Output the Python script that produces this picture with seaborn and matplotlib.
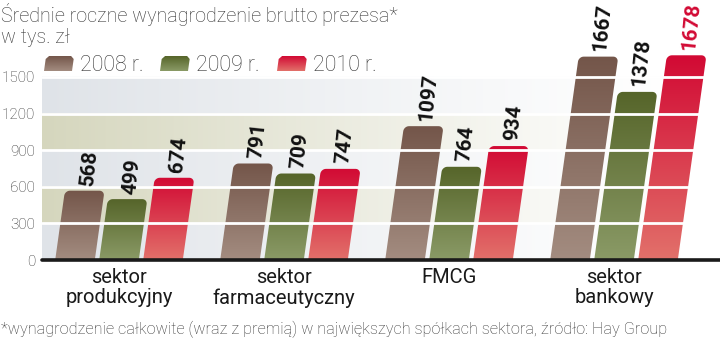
import numpy as np
import pandas as pd
import seaborn as sns
import matplotlib.pyplot as plt
from matplotlib.patches import Polygon
from matplotlib import font_manager as fm
import matplotlib.colors as mcolors

sectors = ["sektor\nprodukcyjny", "sektor\nfarmaceutyczny", "FMCG", "sektor\nbankowy"]
years = ["2008 r.", "2009 r.", "2010 r."]
v2008 = [568, 791, 1097, 1667]
v2009 = [499, 709, 764, 1378]
v2010 = [674, 747, 934, 1678]
yticks = [0, 300, 600, 900, 1200, 1500]
title = "Średnie roczne wynagrodzenie brutto prezesa*"
subtitle = "w tys. zł"
footnote = "*wynagrodzenie całkowite (wraz z premią) w największych spółkach sektora, źródło: Hay Group"

top_cols = ["#74564a", "#56652a", "#d20a34"]
bot_cols = ["#a38c80", "#8a9a66", "#e2706a"]

sns.set_theme(style="white")
avail = {f.name for f in fm.fontManager.ttflist}
narrow = "Liberation Sans Narrow" if "Liberation Sans Narrow" in avail else "Roboto"
plt.rcParams["font.family"] = [narrow, "DejaVu Sans"]

df = pd.DataFrame({
    "sector": sectors * 3,
    "year": [years[0]] * 4 + [years[1]] * 4 + [years[2]] * 4,
    "value": v2008 + v2009 + v2010,
})

W, H = 720, 342
fig = plt.figure(figsize=(W / 100, H / 100), dpi=100)
fig.patch.set_facecolor("white")

px_per_unit_y = (260 - 77) / 1500.0
ymax = 1700
ax_left, ax_right, ax_base = 42, 720, 260
ax_h = ymax * px_per_unit_y
ax = fig.add_axes([ax_left / W, 1 - ax_base / H, (ax_right - ax_left) / W, ax_h / H])
px_per_unit_x = 165.0
xlim = ((ax_left - 119) / px_per_unit_x, (ax_right - 119) / px_per_unit_x)

sns.barplot(data=df, x="sector", y="value", hue="year", hue_order=years,
            palette=top_cols, width=0.8, gap=0.1, legend=False, ax=ax,
            order=sectors, zorder=2)
ax.set_xlim(*xlim)
ax.set_ylim(0, ymax)

# background bands fading to white
band_cols = ["#dfe3e8", "#d5d6bd", "#dfe3e8", "#d5d6bd", "#dfe3e8"]  # top to bottom
nx = 400
alpha = np.clip(1 - np.linspace(0, 1, nx) * 1.05, 0, 1) ** 1.2
img = np.zeros((5, nx, 4))
for i, c in enumerate(band_cols):
    img[i, :, :3] = mcolors.to_rgb(c)
    img[i, :, 3] = alpha
img2 = np.repeat(img, 60, axis=0)
ax.imshow(img2, extent=[xlim[0], xlim[1], 0, 1500], aspect="auto",
          interpolation="nearest", zorder=0, origin="upper")

slope = 0.14
k = slope * px_per_unit_y / px_per_unit_x


def bar_polygon(x0, w, h, r_px=5):
    rx = r_px / px_per_unit_x
    ry = r_px / px_per_unit_y
    pts = [(x0, 0)]
    for tt in np.linspace(np.pi, np.pi / 2, 8):
        pts.append((x0 + rx + rx * np.cos(tt), h - ry + ry * np.sin(tt)))
    for tt in np.linspace(np.pi / 2, 0, 8):
        pts.append((x0 + w - rx + rx * np.cos(tt), h - ry + ry * np.sin(tt)))
    pts.append((x0 + w, 0))
    return [(x + k * y, y) for x, y in pts]


def grad_img(c_top, c_bot, n=64):
    a = np.array(mcolors.to_rgb(c_top))
    b = np.array(mcolors.to_rgb(c_bot))
    t = np.linspace(0, 1, n)[:, None]
    return (a * (1 - t) + b * t)[:, None, :]


bars = list(ax.patches)
for bi, p in enumerate(bars):
    hue_i = bi // 4
    x0, w, h = p.get_x(), p.get_width(), p.get_height()
    p.set_visible(False)
    poly = Polygon(bar_polygon(x0, w, h), closed=True, facecolor="none",
                   edgecolor="none", zorder=2)
    ax.add_patch(poly)
    im = ax.imshow(grad_img(top_cols[hue_i], bot_cols[hue_i]),
                   extent=[x0, x0 + w + k * h, 0, h], aspect="auto",
                   interpolation="bilinear", zorder=2, origin="upper")
    im.set_clip_path(poly)
    cx = x0 + w / 2 + k * h
    col = "#d20a34" if (hue_i == 2 and h == max(v2010)) else "#111111"
    ax.annotate(f"{int(round(h))}", xy=(cx, h), xytext=(3, 3),
                textcoords="offset points", rotation=84, ha="center", va="bottom",
                fontsize=15, fontweight="bold", color=col, zorder=5,
                annotation_clip=False)

ax.set_xlim(*xlim)
ax.set_ylim(0, ymax)

for yv in yticks[1:]:
    ax.axhline(yv, color="white", lw=2, zorder=3)
ax.axhline(0, color="#1a1a1a", lw=2.6, zorder=4, clip_on=False)

for s in ax.spines.values():
    s.set_visible(False)
ax.set_yticks(yticks)
ax.set_yticklabels([str(v) for v in yticks], fontsize=11, color="#333333",
                   fontweight="light")
ax.tick_params(axis="y", length=0, pad=5)
ax.tick_params(axis="x", length=0, pad=6)
ax.set_xticks(range(len(sectors)))
ax.set_xticklabels(sectors, fontsize=14.5, color="#1a1a1a", linespacing=1.05)
ax.set_xlabel("")
ax.set_ylabel("")
ax.set_facecolor("none")

ov = fig.add_axes([0, 0, 1, 1], zorder=10)
ov.set_xlim(0, W)
ov.set_ylim(H, 0)
ov.axis("off")
ov.patch.set_alpha(0)
ov.text(1, 22, title, fontsize=14.2, color="#333333", va="baseline", ha="left",
        fontweight="light")
ov.text(1, 43, subtitle, fontsize=14.2, color="#333333", va="baseline", ha="left",
        fontweight="light")
ov.text(1, 334, footnote, fontsize=11.7, color="#333333", va="baseline", ha="left",
        fontweight="light")

leg_x = [44, 160, 277]
for i, (lx, lab) in enumerate(zip(leg_x, years)):
    w_, h_ = 28, 15
    y_bot = 71
    r = 3
    base = [(0, 0), (0, h_ - r), (r, h_), (w_ - r, h_), (w_, h_ - r), (w_, 0)]
    pts = [(lx + x + 0.14 * y, y_bot - y) for x, y in base]
    poly = Polygon(pts, closed=True, facecolor="none", edgecolor="none")
    ov.add_patch(poly)
    im = ov.imshow(grad_img(top_cols[i], bot_cols[i]),
                   extent=[lx, lx + w_ + 0.14 * h_, y_bot, y_bot - h_],
                   aspect="auto", interpolation="bilinear", origin="upper")
    im.set_clip_path(poly)
    ov.text(lx + 36, 71, lab, fontsize=15.5, color="#333333", va="baseline",
            ha="left", fontweight="light")
ov.set_xlim(0, W)
ov.set_ylim(H, 0)

fig.savefig("out.png", dpi=100, facecolor="white")
